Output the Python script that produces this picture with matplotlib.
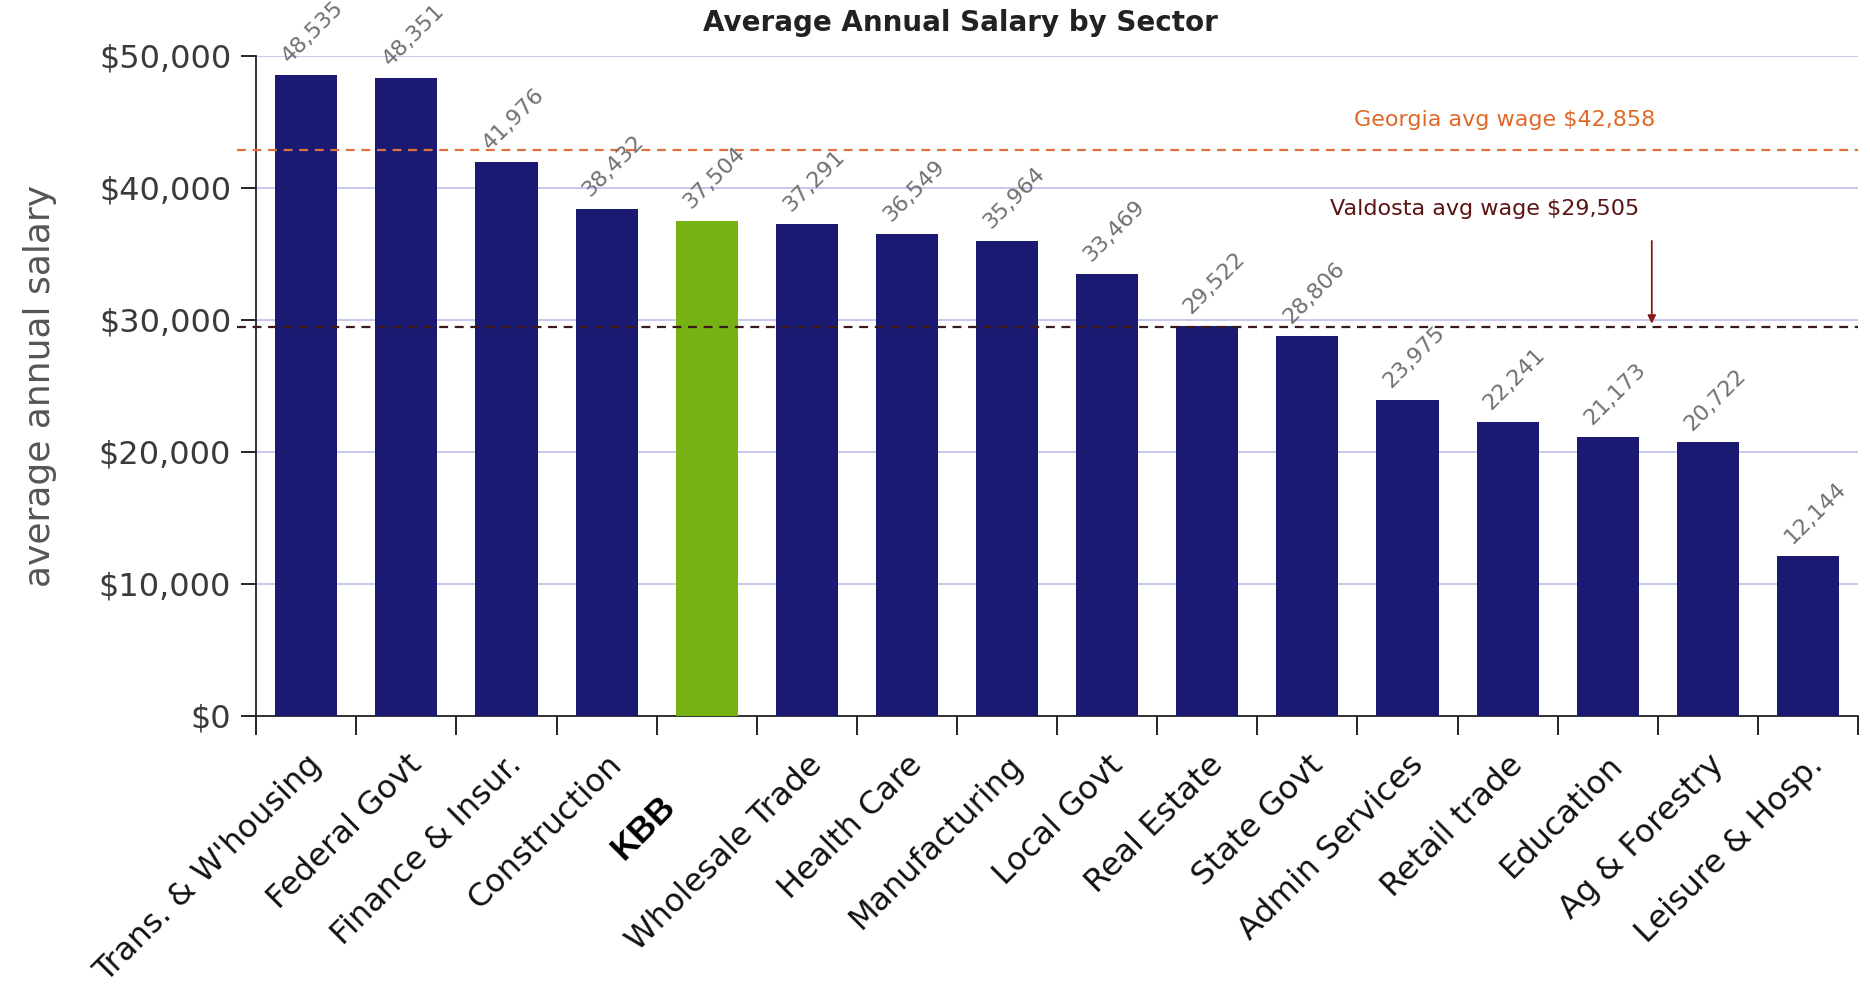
import matplotlib.pyplot as plt
import matplotlib.transforms as mtransforms
import numpy as np

sectors = ["Trans. & W'housing", "Federal Govt", "Finance & Insur.", "Construction",
           "KBB", "Wholesale Trade", "Health Care", "Manufacturing", "Local Govt",
           "Real Estate", "State Govt", "Admin Services", "Retail trade",
           "Education", "Ag & Forestry", "Leisure & Hosp."]
salary = [48535, 48351, 41976, 38432, 37504, 37291, 36549, 35964, 33469,
          29522, 28806, 23975, 22241, 21173, 20722, 12144]
georgia_avg = 42858
valdosta_avg = 29505

navy = '#1b1a73'
green = '#77b214'
colors = [green if s == 'KBB' else navy for s in sectors]

fig = plt.figure(figsize=(18.7, 9.91), dpi=100)
ax = fig.add_axes([0.137, 0.2775, 0.8566, 0.666])

x = np.arange(len(sectors))
ax.bar(x, salary, width=0.62, color=colors, zorder=3)

ax.set_xlim(-0.5, len(sectors) - 0.5)
ax.set_ylim(0, 50000)
ax.set_yticks(range(0, 50001, 10000))
ax.set_yticklabels(['${:,}'.format(v) for v in range(0, 50001, 10000)],
                   fontsize=23, color='#3a3a3a')
ax.yaxis.grid(True, color='#c4c4ee', lw=1.3, zorder=0)
ax.tick_params(axis='y', length=11, width=1.2, pad=7)

# category labels at centres, tick marks at boundaries
ax.set_xticks(x)
ax.set_xticklabels(sectors, rotation=45, ha='right', rotation_mode='anchor',
                   fontsize=23, color='#111111')
ax.set_xticks(np.arange(-0.5, len(sectors)), minor=True)
ax.tick_params(axis='x', which='major', length=0, pad=24)
ax.tick_params(axis='x', which='minor', length=14, width=1.2)

for lab in ax.get_xticklabels():
    if lab.get_text() == 'KBB':
        lab.set_fontweight('bold')
        lab.set_fontfamily('Liberation Sans')
        lab.set_fontsize(25)
        lab.set_color('black')
        lab.set_transform(lab.get_transform() +
                          mtransforms.ScaledTranslation(-48/100, -40/100, fig.dpi_scale_trans))

for side in ['top', 'right']:
    ax.spines[side].set_visible(False)
for side in ['left', 'bottom']:
    ax.spines[side].set_linewidth(1.3)
    ax.spines[side].set_color('#222222')

# value labels
for xi, v in zip(x, salary):
    ax.annotate('{:,}'.format(v), (xi, v), xytext=(5, 31), textcoords='offset points',
                ha='center', va='center', rotation=45, fontsize=16, color='#707070',
                zorder=5)

# reference lines
ax.axhline(georgia_avg, xmin=-0.012, xmax=1, color='#e07040', lw=1.6,
           ls=(0, (4, 3)), clip_on=False, zorder=4)
ax.axhline(valdosta_avg, xmin=-0.012, xmax=1, color='#3a1a1a', lw=1.6,
           ls=(0, (4, 3)), clip_on=False, zorder=4)
ax.text(11.97, 45150, 'Georgia avg wage ${:,}'.format(georgia_avg), ha='center',
        va='center', fontsize=16, color='#e06828')
ax.text(11.77, 38400, 'Valdosta avg wage ${:,}'.format(valdosta_avg), ha='center',
        va='center', fontsize=16, color='#5a1414')
ax.annotate('', xy=(13.44, valdosta_avg), xytext=(13.44, 36200),
            arrowprops=dict(arrowstyle='-|>', color='#8a1a1a', lw=1.3,
                            mutation_scale=12), zorder=5)

ax.set_ylabel('average annual salary', fontsize=26, color='#555555', labelpad=30)

fig.text(960/1870, 1 - 23/991, 'Average Annual Salary by Sector', ha='center',
         va='center', fontsize=20, fontweight='bold', color='#222222')

fig.savefig('out.png', dpi=100, facecolor='white')
